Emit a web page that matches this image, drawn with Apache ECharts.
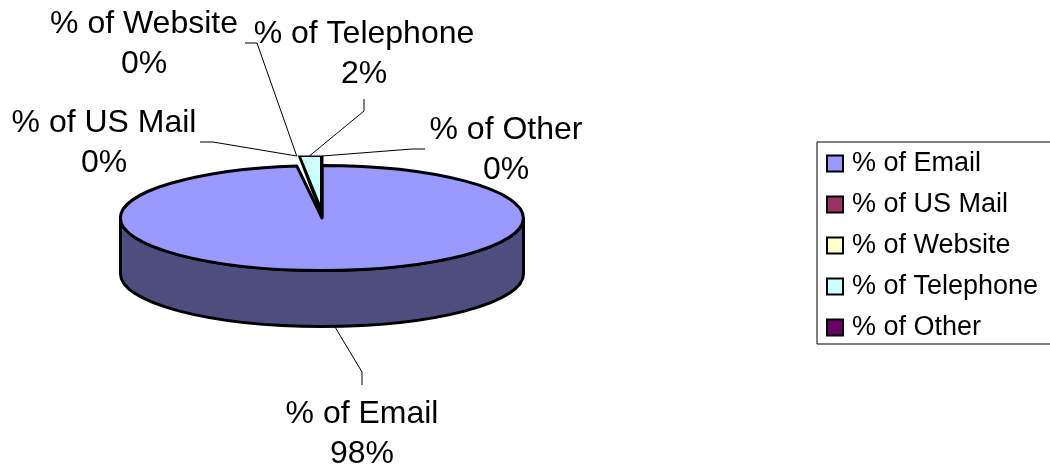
<!DOCTYPE html>
<html lang="en">
<head>
    <meta charset="UTF-8">
    <title>Contact methods</title>
    <script src="https://cdn.jsdelivr.net/npm/echarts@6/dist/echarts.min.js"></script>
    <style>
        html, body { margin: 0; padding: 0; background: #fff; overflow: hidden; }
    </style>
</head>
<body>

<div id="main" style="width: 1050px;height:468px;"></div>

<script type="text/javascript">
    // data
    var categories = ['% of Email', '% of US Mail', '% of Website', '% of Telephone', '% of Other'];
    var shares = [98, 0, 0, 2, 0];
    var colors = ['#9999FF', '#993366', '#FFFFCC', '#CCFFFF', '#660066'];
    var wallColor = '#4D4D80';

    // fake 3d pie geometry
    var cx = 322, cy = 218, rx = 201.5, ry = 52.5, depth = 56, wedgeTop = 156;
    var FONT = '"Liberation Sans", Arial, sans-serif';

    // where each label sits and the elbow of its leader line
    var labelPos = [
        {x: 362, y: 434, line: [[362, 372], [362, 385]]},
        {x: 104, y: 143.5, line: [[213, 142], [200, 142]]},
        {x: 144, y: 44, line: [[257, 43], [245, 43]]},
        {x: 364, y: 54, line: [[364, 111], [364, 99]]},
        {x: 506, y: 150.5, line: [[412, 149], [425, 149]]}
    ];

    var total = shares.reduce(function (a, b) { return a + b; }, 0);

    function angleAt(i) {
        var sum = 0;
        for (var k = 0; k < i; k++) sum += shares[k];
        return sum / total * Math.PI * 2;
    }
    function onRim(a) {
        return [cx + rx * Math.sin(a), cy - ry * Math.cos(a)];
    }
    function fmt(p) { return p[0].toFixed(2) + ' ' + p[1].toFixed(2); }

    function renderSlice(params, api) {
        var i = params.seriesIndex;
        var start = angleAt(i), end = start + api.value(0) / total * Math.PI * 2;
        var mid = (start + end) / 2;
        var children = [];
        var stroke = {stroke: '#000', lineWidth: 3, lineJoin: 'round'};

        if (api.value(0) > 50) {
            // outer wall, only the front half shows
            children.push({
                type: 'path',
                shape: {pathData: 'M' + (cx - rx) + ' ' + cy + ' A' + rx + ' ' + ry + ' 0 0 0 ' + (cx + rx) + ' ' + cy +
                    ' L' + (cx + rx) + ' ' + (cy + depth) + ' A' + rx + ' ' + ry + ' 0 0 1 ' + (cx - rx) + ' ' + (cy + depth) + ' Z'},
                style: Object.assign({fill: wallColor}, stroke)
            });
            var a = onRim(start), b = onRim(end);
            children.push({
                type: 'path',
                shape: {pathData: 'M' + cx + ' ' + cy + ' L' + fmt(a) + ' A' + rx + ' ' + ry + ' 0 ' +
                    ((end - start) > Math.PI ? 1 : 0) + ' 1 ' + fmt(b) + ' Z'},
                style: Object.assign({fill: api.visual('color')}, stroke)
            });
        } else if (api.value(0) > 0) {
            // small slice stands above the rim: black wedge with the fill set inside it
            var l = onRim(start)[0];
            children.push({
                type: 'polygon',
                shape: {points: [[cx + 1.5, cy], [cx - 0.5, cy], [l + 1, wedgeTop - 0.5], [cx + 1.5, wedgeTop - 0.5]]},
                style: {fill: '#000'}
            });
            children.push({
                type: 'polygon',
                shape: {points: [[cx - 2, cy - 15], [l + 4.5, wedgeTop + 1], [cx - 2, wedgeTop + 1]]},
                style: {fill: api.visual('color')}
            });
        }

        // leader line
        var anchor = onRim(mid);
        if (mid > Math.PI / 2 && mid < Math.PI * 1.5) {
            anchor[1] += depth;
        } else {
            anchor[1] = wedgeTop;
        }
        var pos = labelPos[i];
        children.push({
            type: 'polyline',
            shape: {points: [anchor].concat(pos.line)},
            style: {fill: null, stroke: '#000', lineWidth: 1}
        });
        children.push({
            type: 'text',
            style: {
                x: pos.x, y: pos.y,
                text: categories[i] + '\n' + api.value(0) + '%',
                fill: '#000',
                font: '32px ' + FONT,
                lineHeight: 40,
                align: 'center',
                verticalAlign: 'middle'
            }
        });
        return {type: 'group', children: children};
    }

    var myChart = echarts.init(document.getElementById('main'));

    myChart.setOption({
        animation: false,
        legend: {
            orient: 'vertical',
            left: 817,
            top: 142,
            data: categories,
            icon: 'rect',
            itemWidth: 16,
            itemHeight: 16,
            itemGap: 14,
            padding: [8, 30, 3, 9],
            borderColor: '#000',
            borderWidth: 1,
            selectedMode: false,
            itemStyle: {borderColor: '#000', borderWidth: 2},
            textStyle: {color: '#000', fontSize: 27, fontFamily: FONT, padding: [0, 0, 0, 4]}
        },
        series: categories.map(function (name, i) {
            return {
                name: name,
                type: 'custom',
                coordinateSystem: 'none',
                renderItem: renderSlice,
                itemStyle: {color: colors[i]},
                z: i === 3 ? 3 : 2,
                data: [[shares[i]]]
            };
        })
    });
</script>

</body>
</html>
